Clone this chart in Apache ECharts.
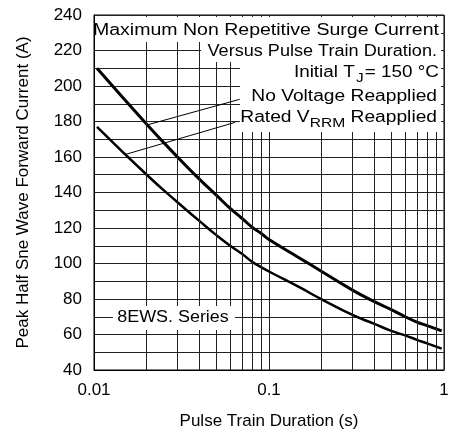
<!DOCTYPE html>
<html>
<head>
<meta charset="utf-8">
<script src="https://cdn.jsdelivr.net/npm/echarts@6/dist/echarts.min.js"></script>
<style>
  html, body { margin: 0; padding: 0; background: #fff; }
  #surge { width: 453px; height: 430px; }
</style>
</head>
<body>
<div id="surge"></div>
<script>
// pulse train duration (s)
var durations = [0.0104, 0.02, 0.03, 0.04, 0.05, 0.06, 0.07, 0.08, 0.09, 0.1, 0.15, 0.2, 0.3, 0.4, 0.5, 0.6, 0.7, 0.8, 0.97];
// peak current (A), no voltage reapplied
var noVoltage = [210, 178.5, 160, 147.5, 138.5, 131, 125.5, 120.5, 117, 113.5, 103, 95.5, 85, 78.5, 74, 70, 67, 65, 62];
// peak current (A), rated VRRM reapplied
var ratedVrrm = [177, 150, 134.5, 124, 116, 110, 105.5, 101, 98, 95.5, 86.5, 79.8, 71, 66, 62, 59.5, 57, 55, 52];
// minor vertical grid lines of the log axis
var minorX = [0.02, 0.03, 0.04, 0.05, 0.06, 0.07, 0.08, 0.09, 0.2, 0.3, 0.4, 0.5, 0.6, 0.7, 0.8, 0.9];
// leader lines from the curves to their labels: [x0, y0, x1, y1]
var leaderNoVoltage = [0.02, 178, 0.068, 192.5];
var leaderRated = [0.0152, 161.5, 0.064, 179.5];

var FONT = "'Liberation Sans', Arial, sans-serif";
var gridColor = "#222";

function pairs(xs, ys) {
  return xs.map(function (x, i) { return [x, ys[i]]; });
}
function leader(l) {
  var ls = { lineStyle: { color: "#000", width: 1 } };
  return [Object.assign({ coord: [l[0], l[1]] }, ls), Object.assign({ coord: [l[2], l[3]] }, ls)];
}

var myChart = echarts.init(document.getElementById("surge"));
var option = {
  backgroundColor: "#fff",
  animation: false,
  textStyle: { fontFamily: FONT, color: "#000" },
  grid: {
    left: 94, right: 9, top: 15, bottom: 60,
    outerBoundsMode: "none",
    containLabel: false,
    show: true, borderColor: "#000", borderWidth: 1
  },
  xAxis: {
    type: "log",
    logBase: 10,
    min: 0.01,
    max: 1,
    name: "Pulse Train Duration (s)",
    nameLocation: "middle",
    nameGap: 43,
    nameTextStyle: { fontSize: 17, color: "#000", fontFamily: FONT },
    axisLine: { lineStyle: { color: "#000", width: 1 } },
    axisTick: { show: false },
    axisLabel: {
      fontSize: 17, color: "#000", margin: 12, fontFamily: FONT,
      formatter: function (v) { return String(+v.toPrecision(3)); }
    },
    splitLine: { show: true, lineStyle: { color: gridColor, width: 1 } }
  },
  yAxis: {
    type: "value",
    min: 40,
    max: 240,
    interval: 20,
    name: "Peak Half Sne Wave Forward Current (A)",
    nameLocation: "middle",
    nameGap: 62,
    nameTextStyle: { fontSize: 17, color: "#000", fontFamily: FONT },
    axisLine: { show: true, lineStyle: { color: "#000", width: 1 } },
    axisTick: { show: false },
    axisLabel: { fontSize: 17, color: "#000", margin: 12, fontFamily: FONT },
    splitLine: { show: true, lineStyle: { color: gridColor, width: 1 } },
    minorTick: { show: false, splitNumber: 2 },
    minorSplitLine: { show: true, lineStyle: { color: gridColor, width: 1 } }
  },
  series: [
    {
      // vertical minor grid + leader lines
      type: "line",
      data: [],
      z: 1,
      silent: true,
      markLine: {
        silent: true,
        symbol: "none",
        animation: false,
        label: { show: false },
        lineStyle: { color: gridColor, width: 1, type: "solid" },
        data: minorX.map(function (v) { return { xAxis: v }; }).concat([
          leader(leaderNoVoltage),
          leader(leaderRated)
        ])
      }
    },
    {
      name: "No Voltage Reapplied",
      type: "line",
      data: pairs(durations, noVoltage),
      smooth: 0.5,
      showSymbol: false,
      z: 3,
      lineStyle: { color: "#000", width: 3 }
    },
    {
      name: "Rated VRRM Reapplied",
      type: "line",
      data: pairs(durations, ratedVrrm),
      smooth: 0.5,
      showSymbol: false,
      z: 3,
      lineStyle: { color: "#000", width: 2.5 }
    }
  ],
  graphic: [
    // white boxes behind the notes
    { type: "rect", z: 50, shape: { x: 95, y: 17, width: 346, height: 25 }, style: { fill: "#fff" } },
    { type: "rect", z: 50, shape: { x: 201, y: 42, width: 240, height: 20 }, style: { fill: "#fff" } },
    { type: "rect", z: 50, shape: { x: 240, y: 62, width: 201, height: 70 }, style: { fill: "#fff" } },
    { type: "rect", z: 50, shape: { x: 113, y: 306, width: 122, height: 24 }, style: { fill: "#fff" } },
    {
      type: "text", z: 60, x: 439, y: 31, scaleX: 1.22,
      style: { text: "Maximum Non Repetitive Surge Current", font: "16px " + FONT, fill: "#000", align: "right", verticalAlign: "middle" }
    },
    {
      type: "text", z: 60, x: 437, y: 52, scaleX: 1.13,
      style: { text: "Versus Pulse Train Duration.", font: "16px " + FONT, fill: "#000", align: "right", verticalAlign: "middle" }
    },
    {
      type: "text", z: 60, x: 439, y: 73, scaleX: 1.18,
      style: {
        text: "Initial T{sub|J}= 150 °C", font: "16px " + FONT, fill: "#000", align: "right", verticalAlign: "middle",
        rich: { sub: { fontSize: 13, fontFamily: FONT, fill: "#000", padding: [11, 1, 0, 1] } }
      }
    },
    {
      type: "text", z: 60, x: 437, y: 97, scaleX: 1.2,
      style: { text: "No Voltage Reapplied", font: "16px " + FONT, fill: "#000", align: "right", verticalAlign: "middle" }
    },
    {
      type: "text", z: 60, x: 437, y: 118, scaleX: 1.2,
      style: {
        text: "Rated V{sub|RRM} Reapplied", font: "16px " + FONT, fill: "#000", align: "right", verticalAlign: "middle",
        rich: { sub: { fontSize: 13, fontFamily: FONT, fill: "#000", padding: [11, 0, 0, 0] } }
      }
    },
    {
      type: "text", z: 60, x: 173, y: 318, scaleX: 1.12,
      style: { text: "8EWS. Series", font: "16px " + FONT, fill: "#000", align: "center", verticalAlign: "middle" }
    }
  ]
};
option && myChart.setOption(option);
</script>
</body>
</html>
